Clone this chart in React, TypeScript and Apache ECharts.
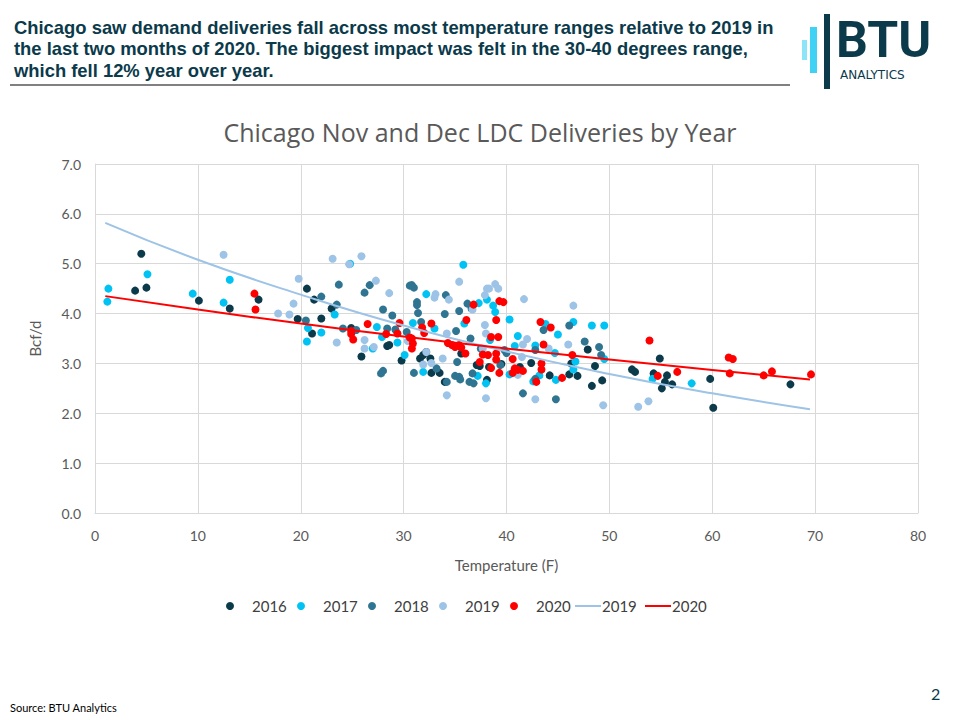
import React, { useEffect, useRef } from "react";
import * as echarts from "echarts";

// [temperature °F, Bcf/d] daily LDC deliveries, Nov–Dec of each year
const d2016: number[][] = [
  [4.5, 5.2], [3.9, 4.46], [5.0, 4.52], [10.1, 4.26], [13.1, 4.1], [15.9, 4.28],
  [20.6, 4.5], [21.3, 4.28], [23.0, 4.1], [19.7, 3.89], [21.1, 3.6], [22.0, 3.9],
  [25.9, 3.14], [28.4, 3.35], [28.6, 3.37], [29.8, 3.06], [24.9, 3.71],
  [31.6, 3.1], [32.2, 3.23], [32.6, 3.1], [31.9, 3.17], [32.7, 2.81], [33.5, 2.81],
  [34.0, 2.63], [35.6, 3.2], [37.1, 2.97], [37.4, 2.95], [38.1, 2.67], [38.3, 2.93],
  [39.5, 2.99], [41.3, 2.93], [42.4, 3.01], [44.2, 2.76], [46.1, 2.78], [46.9, 2.75],
  [47.9, 3.28], [48.6, 2.95], [48.3, 2.55], [49.3, 2.66], [46.3, 3.0],
  [54.9, 3.1], [52.2, 2.88], [52.5, 2.83], [54.3, 2.8], [55.6, 2.76], [55.4, 2.63],
  [56.1, 2.58], [55.1, 2.5], [59.8, 2.69], [60.1, 2.11], [67.6, 2.58],
];
const d2017: number[][] = [
  [1.3, 4.5], [1.2, 4.24], [5.1, 4.79], [9.5, 4.4], [12.5, 4.22], [13.1, 4.68],
  [20.7, 3.71], [20.6, 3.44], [22.0, 3.62], [23.3, 3.98], [24.8, 5.0], [27.4, 3.73],
  [27.9, 3.53], [27.0, 3.3], [29.4, 3.42], [30.1, 3.17], [35.8, 4.98], [32.2, 4.39],
  [30.9, 3.81], [31.9, 2.83], [33.0, 3.7], [35.9, 3.8], [37.3, 4.21], [38.1, 4.28],
  [38.7, 4.16], [38.9, 4.03], [38.4, 3.47], [37.2, 2.75], [38.0, 2.6], [40.3, 3.88],
  [40.3, 2.78], [41.1, 3.55], [40.8, 3.35], [43.8, 3.79], [45.0, 3.58], [44.7, 3.21],
  [42.8, 3.36], [43.2, 2.76], [42.6, 2.64], [44.8, 2.67], [46.5, 3.83], [48.3, 3.76],
  [49.5, 3.76], [46.7, 3.04], [46.5, 2.88], [49.5, 3.09], [54.2, 2.69], [58.0, 2.6],
];
const d2018: number[][] = [
  [20.5, 3.86], [22.0, 4.34], [23.5, 4.18], [23.7, 4.58], [24.1, 3.7], [25.4, 3.67],
  [26.2, 4.42], [26.7, 4.57], [28.0, 4.08], [28.9, 3.96], [28.4, 3.7], [29.2, 3.68],
  [27.8, 2.8], [28.0, 2.85], [30.3, 3.63], [30.6, 4.56], [30.8, 4.57], [31.0, 4.52],
  [31.3, 4.23], [31.3, 4.17], [31.4, 4.01], [31.7, 3.83], [34.1, 4.37], [34.0, 3.99],
  [35.4, 4.05], [35.1, 3.65], [36.2, 4.2], [36.6, 4.1], [36.5, 3.5], [35.2, 3.03],
  [31.0, 2.81], [33.2, 2.9], [34.2, 2.63], [35.0, 2.75], [35.4, 2.73], [35.5, 2.68],
  [36.4, 2.63], [36.8, 2.6], [36.7, 2.8], [39.4, 2.97], [40.0, 3.21], [37.5, 3.3],
  [43.6, 3.67], [46.1, 3.76], [47.6, 3.44], [49.0, 3.33], [49.2, 3.17], [42.8, 3.27],
  [41.6, 2.4], [44.8, 2.28], [42.8, 2.69], [39.8, 3.27],
];
const d2019: number[][] = [
  [12.5, 5.18], [19.8, 4.7], [19.3, 4.2], [17.8, 4.0], [18.9, 3.98], [23.1, 5.1],
  [23.5, 3.42], [24.7, 4.99], [25.9, 5.15], [27.3, 4.66], [28.6, 4.41], [26.2, 3.47],
  [26.2, 3.3], [27.1, 3.33], [30.4, 3.45], [35.4, 4.64], [33.1, 4.39], [33.0, 4.32],
  [34.4, 4.28], [38.1, 4.5], [38.9, 4.59], [39.2, 4.5], [37.9, 4.37], [38.3, 4.5],
  [36.7, 4.08], [32.2, 3.23], [32.7, 3.01], [31.9, 2.98], [33.8, 3.1], [34.2, 3.6],
  [37.9, 3.77], [38.0, 3.6], [37.7, 3.3], [34.2, 2.36], [38.0, 2.3], [41.7, 4.29],
  [46.5, 4.16], [42.0, 3.49], [41.6, 3.38], [41.5, 3.13], [41.1, 2.77], [44.1, 3.3],
  [46.0, 3.38], [42.8, 2.28], [49.4, 2.16], [52.8, 2.13], [53.8, 2.24],
];
const d2020: number[][] = [
  [15.5, 4.4], [15.6, 4.08], [26.5, 3.79], [24.9, 3.65], [24.9, 3.59], [25.1, 3.48],
  [28.3, 3.59], [29.4, 3.6], [29.6, 3.81], [30.6, 3.52], [30.8, 3.5], [30.9, 3.4],
  [30.8, 3.3], [31.8, 3.72], [32.7, 3.8], [32.0, 3.61], [34.3, 3.41], [34.7, 3.37],
  [35.0, 3.33], [35.4, 3.37], [35.6, 3.32], [36.0, 3.2], [36.1, 3.87], [36.8, 4.18],
  [39.0, 3.87], [38.5, 3.53], [39.2, 3.53], [39.3, 4.25], [39.7, 4.23], [37.7, 3.18],
  [38.2, 3.17], [39.0, 3.2], [39.0, 3.08], [37.4, 3.03], [38.5, 2.91], [39.3, 2.81],
  [40.6, 3.09], [40.8, 2.9], [40.6, 2.81], [41.1, 2.87], [41.6, 2.85], [43.3, 3.83],
  [44.3, 3.72], [43.6, 3.38], [43.4, 3.0], [43.4, 2.88], [42.9, 2.63], [45.4, 2.71],
  [46.4, 3.17], [53.9, 3.46], [54.7, 2.75], [56.6, 2.83], [61.6, 3.12], [62.0, 3.09],
  [61.7, 2.8], [65.0, 2.76], [65.8, 2.84], [69.6, 2.78],
];

// Trend curves for 2019 and 2020
const trend2019: number[][] = [
  [1, 5.82], [10, 5.08], [20, 4.38], [30, 3.76], [40, 3.24], [50, 2.79], [60, 2.4], [69.5, 2.08],
];
const trend2020: number[][] = [
  [1, 4.35], [10, 4.08], [20, 3.8], [30, 3.54], [40, 3.3], [50, 3.08], [60, 2.87], [69.5, 2.68],
];

const years = ["2016", "2017", "2018", "2019", "2020"];
const yearColors = ["#0b3a4b", "#00c3f3", "#2f7592", "#9dc3e6", "#ff0000"];
const scatterData = [d2016, d2017, d2018, d2019, d2020];
const trendNames = ["2019", "2020"];
const trendColors = ["#9dc3e6", "#ff0000"];
const trendData = [trend2019, trend2020];

const headerLines = [
  "Chicago saw demand deliveries fall across most temperature ranges relative to 2019 in",
  "the last two months of 2020. The biggest impact was felt in the 30-40 degrees range,",
  "which fell 12% year over year.",
];

const navy = "#0b3a4b";
const grey = "#595959";
const legendFont = '15px "Lato"';

export default function App() {
  const ref = useRef<HTMLDivElement>(null);

  useEffect(() => {
    if (!ref.current) return;
    const chart = echarts.init(ref.current, undefined, { renderer: "svg" });

    const scatterSeries = years.map((y, i) => ({
      name: y,
      type: "scatter",
      data: scatterData[i],
      symbol: "circle",
      symbolSize: 8,
      itemStyle: { color: yearColors[i], opacity: 1 },
      z: 2,
    }));

    const lineSeries = trendNames.map((n, i) => ({
      name: n + " trend",
      type: "line",
      data: trendData[i],
      smooth: true,
      symbol: "none",
      lineStyle: { color: trendColors[i], width: 2 },
      itemStyle: { color: trendColors[i] },
      z: 3,
    }));

    const headerText = headerLines.map((line, i) => ({
      type: "text",
      x: 14,
      y: 27 + i * 21.5,
      style: {
        text: line,
        fill: navy,
        fontFamily: "Liberation Sans",
        fontWeight: "bold",
        fontSize: 18.4,
        lineHeight: 20.5,
        verticalAlign: "middle",
      },
    }));

    // legend row: year dots, then trend lines
    const legendY = 606;
    const legendItems: any[] = [];
    years.forEach((y, i) => {
      const cx = 230 + i * 71;
      legendItems.push({
        type: "circle",
        shape: { cx, cy: legendY, r: 4 },
        style: { fill: yearColors[i] },
      });
      legendItems.push({
        type: "text",
        x: cx + 22,
        y: legendY,
        style: { text: y, fill: "#404040", font: legendFont, verticalAlign: "middle" },
      });
    });
    trendNames.forEach((n, i) => {
      const x0 = 575 + i * 70;
      legendItems.push({
        type: "line",
        shape: { x1: x0, y1: legendY, x2: x0 + 26, y2: legendY },
        style: { stroke: trendColors[i], lineWidth: 2 },
      });
      legendItems.push({
        type: "text",
        x: x0 + 27,
        y: legendY,
        style: { text: n, fill: "#404040", font: legendFont, verticalAlign: "middle" },
      });
    });

    chart.setOption({
      animation: false,
      backgroundColor: "#ffffff",
      textStyle: { fontFamily: "Lato" },
      title: {
        text: "Chicago Nov and Dec LDC Deliveries by Year",
        left: "center",
        top: 114,
        textStyle: {
          fontFamily: "Open Sans",
          fontWeight: "normal",
          fontSize: 25,
          color: grey,
        },
      },
      grid: { left: 95, right: 42, top: 164, bottom: 207 },
      xAxis: {
        type: "value",
        min: 0,
        max: 80,
        interval: 10,
        name: "Temperature (F)",
        nameLocation: "middle",
        nameGap: 44,
        nameTextStyle: { fontSize: 15, color: grey, fontFamily: "Lato" },
        axisLine: { show: true, lineStyle: { color: "#d9d9d9" } },
        axisTick: { show: false },
        axisLabel: { fontSize: 14, color: grey, margin: 15 },
        splitLine: { show: true, lineStyle: { color: "#d9d9d9" } },
      },
      yAxis: {
        type: "value",
        min: 0,
        max: 7,
        interval: 1,
        name: "Bcf/d",
        nameLocation: "middle",
        nameGap: 53,
        nameTextStyle: { fontSize: 15, color: grey, fontFamily: "Lato" },
        axisLine: { show: true, lineStyle: { color: "#d9d9d9" } },
        axisTick: { show: false },
        axisLabel: {
          fontSize: 14,
          color: grey,
          margin: 14,
          formatter: (v: number) => v.toFixed(1),
        },
        splitLine: { show: true, lineStyle: { color: "#d9d9d9" } },
      },
      series: [...scatterSeries, ...lineSeries],
      graphic: [
        ...headerText,
        {
          type: "rect",
          shape: { x: 10, y: 84, width: 780, height: 2 },
          style: { fill: "#808080" },
        },
        // logo bars
        {
          type: "rect",
          shape: { x: 802, y: 40, width: 5, height: 20 },
          style: { fill: "#8be4f7" },
        },
        {
          type: "rect",
          shape: { x: 810, y: 27, width: 7, height: 46 },
          style: { fill: "#3fd2f4" },
        },
        {
          type: "rect",
          shape: { x: 824, y: 14, width: 6, height: 75 },
          style: { fill: navy },
        },
        {
          type: "text",
          x: 836,
          y: 40,
          style: {
            text: "BTU",
            fill: navy,
            fontFamily: "Roboto",
            fontWeight: "bold",
            fontSize: 50,
            lineHeight: 40,
            verticalAlign: "middle",
          },
        },
        {
          type: "text",
          x: 840,
          y: 75,
          style: {
            text: "ANALYTICS",
            fill: navy,
            fontFamily: "DejaVu Sans",
            fontSize: 12,
            lineHeight: 12,
            verticalAlign: "middle",
          },
        },
        ...legendItems,
        {
          type: "text",
          x: 10,
          y: 707,
          style: {
            text: "Source: BTU Analytics",
            fill: "#000000",
            font: '11px "Lato"',
            verticalAlign: "middle",
          },
        },
        {
          type: "text",
          x: 931,
          y: 693,
          style: {
            text: "2",
            fill: navy,
            font: '16px "Lato"',
            verticalAlign: "middle",
          },
        },
      ],
    });

    return () => chart.dispose();
  }, []);

  return (
    <div
      ref={ref}
      style={{ position: "absolute", left: 0, top: 0, width: 960, height: 720 }}
    />
  );
}
